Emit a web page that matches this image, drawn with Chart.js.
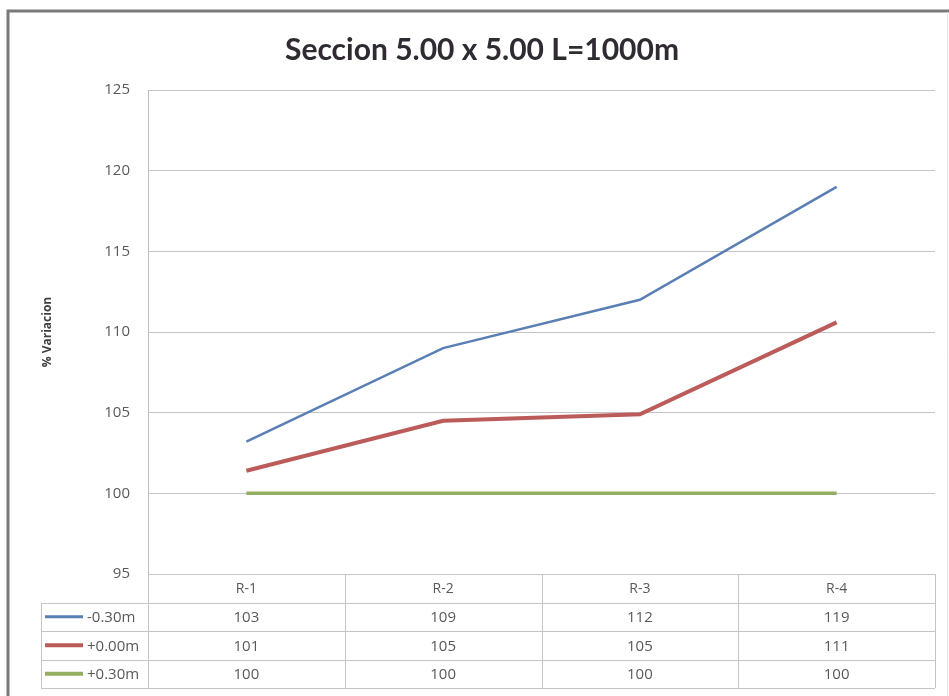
<!DOCTYPE html>
<html>
<head>
<meta charset="utf-8">
<script src="https://cdn.jsdelivr.net/npm/chart.js@4/dist/chart.umd.min.js"></script>
<style>
  html, body { margin: 0; padding: 0; background: #fff; }
  #wrap { width: 949px; height: 696px; position: relative; }
</style>
</head>
<body>
<div id="wrap"><canvas id="canvas" width="949" height="696"></canvas></div>
<script>
const TITLE = 'Seccion 5.00 x 5.00 L=1000m'
const categories = ['R-1', 'R-2', 'R-3', 'R-4']
const seriesNames = ['-0.30m', '+0.00m', '+0.30m']
const serieMenos030 = [103.2, 109.0, 112.0, 119.0]
const serieCero = [101.4, 104.5, 104.9, 110.6]
const serieMas030 = [100.0, 100.0, 100.0, 100.0]
const yTicks = [95, 100, 105, 110, 115, 120, 125]

const colores = ['#5a7fb4', '#bb5b5a', '#93ad62']
const grosores = [2.5, 4, 3.5]
const textGray = '#595959'
const gridGray = '#c4c4c4'

// titulo + tabla de datos debajo del eje (como en Excel)
const dataTablePlugin = {
  id: 'dataTable',
  afterDraw(chart) {
    const ctx = chart.ctx
    const area = chart.chartArea
    const x = chart.scales.x
    const rowH = 28.5
    const legendLeft = 41
    const colW = (area.right - area.left) / categories.length
    const allSeries = [serieMenos030, serieCero, serieMas030]
    ctx.save()

    // titulo
    ctx.fillStyle = '#302b33'
    ctx.font = 'bold 30px Lato, sans-serif'
    ctx.textAlign = 'center'
    ctx.textBaseline = 'alphabetic'
    ctx.fillText(TITLE, 482, 60)

    ctx.strokeStyle = gridGray
    ctx.lineWidth = 1
    // lineas verticales
    for (let i = 0; i <= categories.length; i++) {
      const vx = Math.round(area.left + i * colW) + 0.5
      ctx.beginPath()
      ctx.moveTo(vx, area.bottom)
      ctx.lineTo(vx, area.bottom + rowH * 4)
      ctx.stroke()
    }
    // lineas horizontales
    for (let r = 1; r <= 4; r++) {
      const hy = Math.round(area.bottom + r * rowH) + 0.5
      ctx.beginPath()
      ctx.moveTo(legendLeft, hy)
      ctx.lineTo(area.right, hy)
      ctx.stroke()
    }
    const lx = legendLeft + 0.5
    ctx.beginPath()
    ctx.moveTo(lx, Math.round(area.bottom + rowH) + 0.5)
    ctx.lineTo(lx, Math.round(area.bottom + rowH * 4) + 0.5)
    ctx.stroke()

    ctx.fillStyle = textGray
    ctx.textAlign = 'center'
    ctx.textBaseline = 'middle'
    ctx.font = '14px "Open Sans", sans-serif'
    categories.forEach((c, i) => {
      ctx.fillText(c, x.getPixelForValue(i), area.bottom + rowH / 2 + 1)
    })
    ctx.font = '15px "Open Sans", sans-serif'
    allSeries.forEach((s, r) => {
      const cy = area.bottom + rowH * (r + 1.5) + 1
      s.forEach((v, i) => {
        ctx.fillText(Math.round(v).toString(), x.getPixelForValue(i), cy)
      })
      // clave de leyenda
      ctx.strokeStyle = colores[r]
      ctx.lineWidth = grosores[r] < 3 ? 3 : 4
      ctx.beginPath()
      ctx.moveTo(45, cy - 1)
      ctx.lineTo(83, cy - 1)
      ctx.stroke()
      ctx.textAlign = 'left'
      ctx.fillText(seriesNames[r], 87, cy)
      ctx.textAlign = 'center'
    })

    // marco exterior
    ctx.strokeStyle = '#7a7a7a'
    ctx.lineWidth = 3
    ctx.beginPath()
    ctx.moveTo(8, 700)
    ctx.lineTo(8, 11)
    ctx.lineTo(960, 11)
    ctx.stroke()
    ctx.strokeStyle = '#e2e2e2'
    ctx.lineWidth = 1
    ctx.beginPath()
    ctx.moveTo(947.5, 12)
    ctx.lineTo(947.5, 700)
    ctx.stroke()
    ctx.restore()
  }
}

const chart = new Chart(document.getElementById('canvas'), {
  type: 'line',
  data: {
    labels: categories,
    datasets: [serieMenos030, serieCero, serieMas030].map((d, i) => ({
      label: seriesNames[i],
      data: d,
      borderColor: colores[i],
      borderWidth: grosores[i],
      pointRadius: 0,
      tension: 0,
      fill: false
    }))
  },
  options: {
    responsive: false,
    animation: false,
    layout: { padding: { left: 0, right: 14, top: 90, bottom: 122 } },
    plugins: {
      legend: { display: false },
      tooltip: { enabled: false },
      title: { display: false }
    },
    scales: {
      x: {
        display: false,
        offset: true
      },
      y: {
        min: 95,
        max: 125,
        afterFit(scale) { scale.width = 148 },
        afterBuildTicks(scale) { scale.ticks = yTicks.map(v => ({ value: v })) },
        border: { display: true, color: '#bdbdbd', width: 1 },
        grid: { color: gridGray, drawTicks: false },
        ticks: {
          color: textGray,
          padding: 18,
          font: { family: '"Open Sans", sans-serif', size: 15 }
        },
        title: {
          display: true,
          text: '% Variacion',
          color: '#404040',
          font: { family: '"Open Sans", sans-serif', size: 12, weight: 'bold' },
          padding: { top: 40, bottom: 0 }
        }
      }
    }
  },
  plugins: [dataTablePlugin]
})
</script>
</body>
</html>
